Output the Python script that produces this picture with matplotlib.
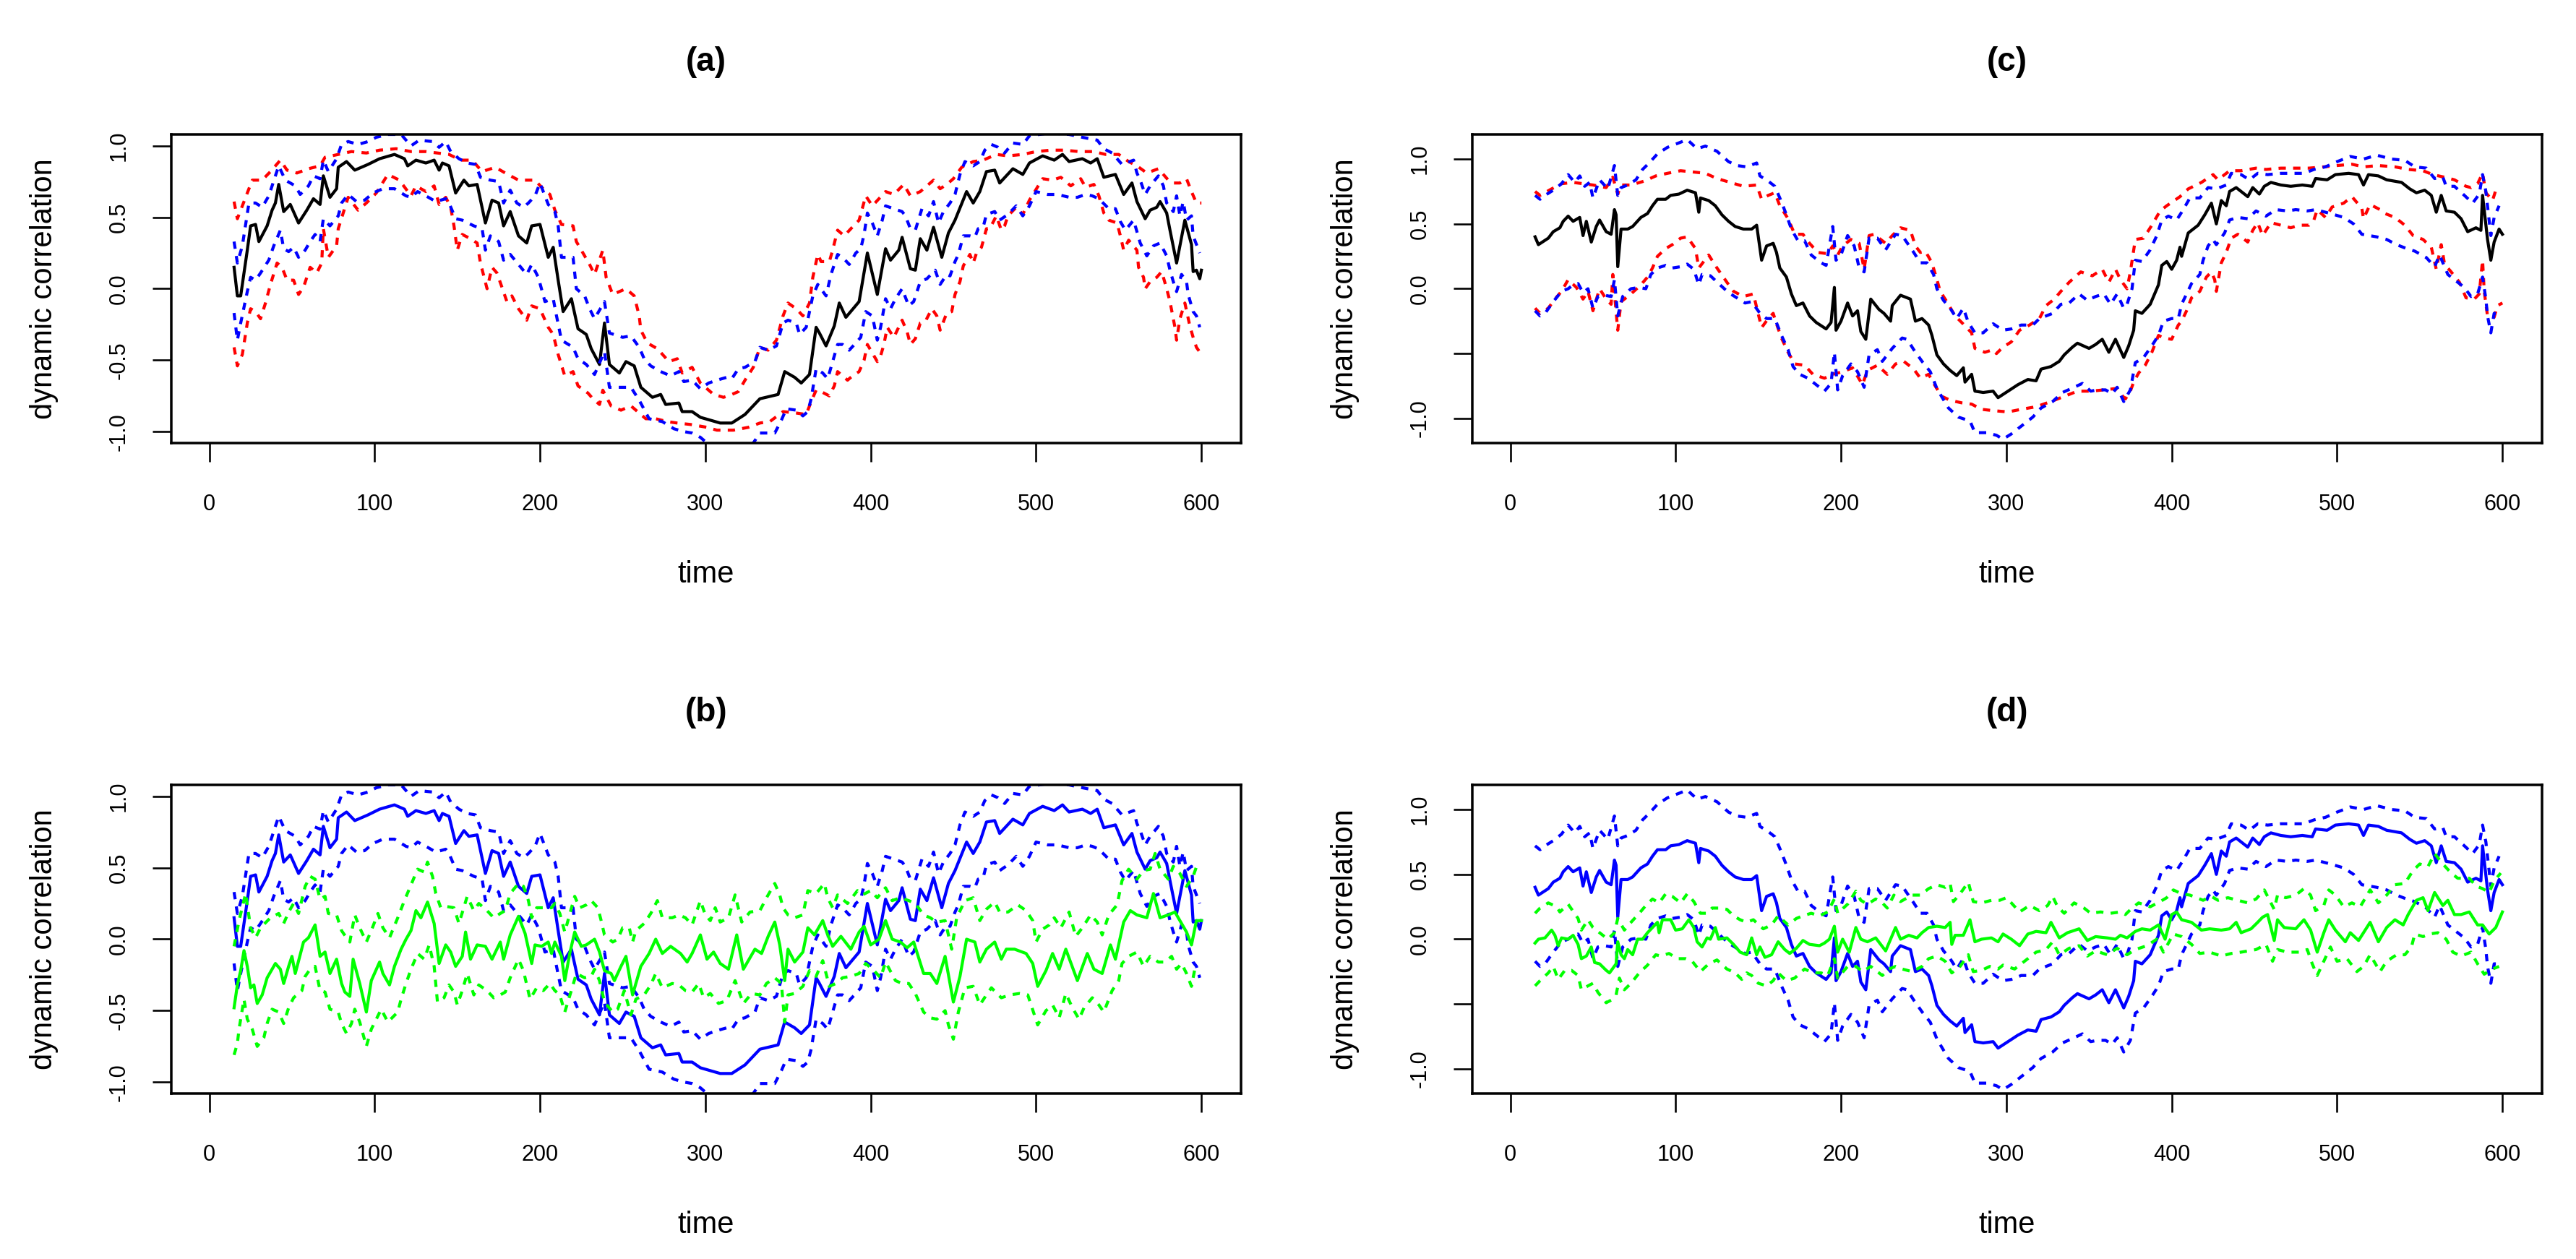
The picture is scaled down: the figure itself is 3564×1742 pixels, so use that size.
import matplotlib
matplotlib.use("Agg")
import matplotlib.pyplot as plt

plt.rcParams['font.family'] = ['Liberation Sans', 'DejaVu Sans']
plt.rcParams['axes.unicode_minus'] = False

# ---------------- data: (time, value) pairs ----------------
A_black = [(15,0.15),(17,-0.05),(19,-0.05),(23,0.27),(25,0.44),(28,0.45),(30,0.33),(35,0.44),(38,0.55),(40,0.60),(42,0.73),(45,0.54),(49,0.59),(54,0.46),(59,0.55),(63,0.63),(67,0.59),(69,0.79),(73,0.64),(77,0.70),(78,0.85),(83,0.89),(88,0.83),(96,0.87),(103,0.91),(112,0.94),(118,0.91),(120,0.86),(125,0.90),(131,0.88),(136,0.90),(139,0.83),(141,0.88),(145,0.86),(149,0.67),(154,0.76),(157,0.72),(162,0.73),(167,0.46),(171,0.62),(175,0.60),(178,0.44),(182,0.54),(187,0.37),(192,0.32),(195,0.44),(200,0.45),(205,0.22),(208,0.29),(211,0.06),(214,-0.16),(219,-0.07),(223,-0.28),(228,-0.32),(231,-0.42),(236,-0.53),(239,-0.24),(242,-0.53),(248,-0.59),(252,-0.51),(257,-0.54),(261,-0.69),(268,-0.76),(273,-0.74),(276,-0.81),(284,-0.80),(286,-0.86),(292,-0.86),(297,-0.90),(309,-0.94),(316,-0.94),(324,-0.88),(333,-0.77),(344,-0.74),(348,-0.58),(354,-0.62),(358,-0.66),(363,-0.60),(367,-0.27),(369,-0.31),(373,-0.40),(378,-0.26),(381,-0.10),(385,-0.20),(393,-0.09),(398,0.25),(404,-0.04),(409,0.28),(412,0.20),(417,0.27),(419,0.36),(424,0.14),(427,0.13),(430,0.35),(434,0.27),(438,0.43),(443,0.22),(447,0.39),(451,0.48),(458,0.68),(462,0.60),(466,0.68),(470,0.82),(475,0.83),(478,0.74),(486,0.84),(492,0.80),(496,0.88),(504,0.93),(511,0.90),(516,0.94),(520,0.89),(528,0.91),(533,0.88),(537,0.91),(541,0.78),(548,0.80),(553,0.66),(558,0.74),(561,0.61),(566,0.49),(569,0.55),(573,0.57),(575,0.61),(579,0.53),(581,0.41),(585,0.18),(590,0.48),(594,0.31),(595,0.12),(597,0.13),(599,0.07),(600,0.13)]

A_red_up = [(15,0.61),(17,0.49),(23,0.67),(26,0.76),(32,0.76),(37,0.82),(43,0.90),(47,0.83),(53,0.81),(60,0.84),(67,0.86),(70,0.92),(78,0.94),(86,0.96),(95,0.95),(103,0.97),(113,0.98),(122,0.96),(131,0.96),(138,0.95),(145,0.94),(152,0.90),(159,0.90),(165,0.82),(173,0.85),(179,0.81),(187,0.76),(197,0.76),(201,0.71),(206,0.66),(209,0.55),(213,0.45),(220,0.44),(222,0.33),(226,0.25),(230,0.17),(233,0.10),(238,0.27),(240,0.08),(244,-0.04),(252,0.00),(257,-0.05),(260,-0.19),(261,-0.29),(265,-0.38),(271,-0.42),(278,-0.51),(283,-0.49),(286,-0.59),(292,-0.55),(297,-0.66),(305,-0.74),(311,-0.76),(316,-0.74),(320,-0.72),(324,-0.64),(329,-0.55),(333,-0.41),(338,-0.43),(343,-0.36),(347,-0.19),(350,-0.10),(355,-0.14),(359,-0.19),(363,-0.10),(365,0.08),(368,0.24),(370,0.19),(375,0.19),(377,0.27),(380,0.41),(384,0.37),(388,0.42),(393,0.48),(397,0.65),(401,0.58),(409,0.68),(414,0.66),(420,0.73),(424,0.65),(430,0.68),(433,0.71),(438,0.76),(442,0.70),(446,0.73),(450,0.77),(455,0.85),(462,0.89),(468,0.90),(476,0.94),(483,0.93),(492,0.94),(500,0.96),(509,0.97),(517,0.97),(526,0.96),(535,0.96),(542,0.94),(550,0.94),(556,0.89),(561,0.86),(567,0.81),(574,0.84),(580,0.76),(583,0.74),(587,0.74),(591,0.77),(594,0.68),(597,0.60),(600,0.60)]

A_red_lo = [(15,-0.41),(17,-0.54),(20,-0.46),(23,-0.24),(25,-0.14),(28,-0.16),(31,-0.21),(34,-0.10),(37,0.03),(41,0.18),(44,0.15),(47,0.06),(51,0.06),(54,-0.04),(57,0.01),(61,0.15),(65,0.11),(68,0.18),(69,0.42),(72,0.22),(77,0.30),(78,0.42),(84,0.64),(90,0.55),(95,0.60),(101,0.67),(108,0.80),(115,0.76),(122,0.65),(125,0.72),(131,0.68),(136,0.72),(139,0.59),(143,0.64),(146,0.57),(148,0.44),(150,0.27),(153,0.38),(158,0.35),(162,0.32),(164,0.18),(168,0.00),(171,0.15),(174,0.11),(177,0.01),(180,-0.09),(183,-0.05),(187,-0.14),(192,-0.22),(195,-0.12),(200,-0.14),(205,-0.27),(208,-0.32),(211,-0.46),(215,-0.61),(220,-0.58),(223,-0.68),(229,-0.73),(232,-0.77),(236,-0.81),(238,-0.71),(243,-0.82),(249,-0.85),(255,-0.82),(264,-0.91),(270,-0.91),(277,-0.93),(283,-0.94),(291,-0.95),(301,-0.97),(307,-0.99),(317,-0.99),(326,-0.97),(333,-0.94),(339,-0.93),(347,-0.86),(355,-0.87),(361,-0.88),(364,-0.79),(367,-0.71),(370,-0.72),(375,-0.75),(378,-0.68),(380,-0.58),(386,-0.64),(389,-0.61),(393,-0.58),(396,-0.50),(398,-0.39),(404,-0.51),(406,-0.47),(408,-0.39),(410,-0.27),(414,-0.34),(419,-0.22),(422,-0.30),(424,-0.39),(427,-0.35),(430,-0.24),(433,-0.23),(437,-0.14),(440,-0.19),(442,-0.29),(446,-0.17),(449,-0.16),(451,-0.04),(454,0.05),(456,0.16),(460,0.24),(462,0.18),(464,0.25),(467,0.29),(470,0.42),(472,0.42),(476,0.51),(479,0.41),(481,0.44),(483,0.51),(488,0.57),(492,0.52),(496,0.62),(504,0.77),(510,0.76),(515,0.78),(521,0.72),(527,0.77),(530,0.71),(535,0.73),(538,0.65),(541,0.53),(544,0.48),(549,0.46),(551,0.37),(553,0.27),(556,0.34),(561,0.27),(562,0.15),(565,0.08),(566,0.00),(569,0.05),(573,0.08),(576,0.12),(579,0.00),(581,-0.09),(584,-0.27),(585,-0.36),(587,-0.21),(590,-0.10),(593,-0.26),(595,-0.34),(597,-0.41),(600,-0.46)]

A_blue_up = [(15,0.33),(17,0.18),(20,0.30),(24,0.60),(28,0.60),(32,0.57),(36,0.65),(42,0.86),(46,0.76),(52,0.72),(55,0.66),(60,0.72),(63,0.79),(67,0.77),(69,0.90),(72,0.82),(77,0.91),(80,1.01),(84,1.03),(90,1.01),(96,1.03),(101,1.06),(108,1.08),(116,1.08),(122,1.00),(127,1.04),(135,1.03),(139,0.99),(143,1.03),(146,0.96),(151,0.91),(156,0.88),(161,0.87),(164,0.78),(170,0.76),(175,0.75),(178,0.60),(182,0.69),(186,0.60),(190,0.57),(193,0.60),(197,0.65),(200,0.74),(203,0.65),(205,0.59),(209,0.54),(211,0.44),(213,0.22),(220,0.22),(222,0.00),(227,-0.05),(230,-0.14),(233,-0.21),(239,-0.09),(242,-0.31),(250,-0.34),(255,-0.33),(260,-0.41),(263,-0.49),(267,-0.54),(273,-0.58),(279,-0.61),(284,-0.58),(287,-0.65),(292,-0.64),(297,-0.70),(302,-0.66),(307,-0.64),(313,-0.62),(316,-0.63),(320,-0.56),(324,-0.55),(330,-0.51),(333,-0.41),(338,-0.43),(343,-0.40),(347,-0.24),(350,-0.22),(355,-0.24),(357,-0.32),(361,-0.27),(363,-0.16),(365,-0.05),(368,0.03),(373,-0.05),(376,0.10),(380,0.24),(383,0.22),(387,0.17),(391,0.25),(394,0.28),(396,0.38),(398,0.53),(401,0.46),(404,0.37),(407,0.48),(409,0.58),(414,0.56),(419,0.54),(421,0.51),(424,0.42),(427,0.41),(431,0.56),(435,0.51),(438,0.61),(441,0.46),(444,0.54),(448,0.60),(451,0.66),(454,0.80),(457,0.89),(462,0.86),(466,0.89),(469,0.97),(473,1.01),(477,0.99),(481,0.95),(486,1.02),(492,1.01),(496,1.07),(508,1.09),(520,1.08),(528,1.06),(537,1.04),(541,0.98),(546,0.95),(552,0.87),(559,0.90),(561,0.81),(563,0.76),(566,0.66),(569,0.72),(574,0.79),(577,0.72),(579,0.60),(583,0.54),(585,0.65),(587,0.51),(589,0.61),(591,0.48),(594,0.51),(595,0.37),(597,0.31),(599,0.25)]

A_blue_lo = [(15,-0.17),(17,-0.36),(19,-0.24),(23,-0.02),(25,0.08),(28,0.06),(31,0.11),(36,0.20),(39,0.30),(43,0.41),(45,0.28),(48,0.26),(51,0.29),(54,0.22),(58,0.27),(61,0.33),(64,0.38),(67,0.33),(69,0.49),(73,0.44),(78,0.51),(80,0.60),(84,0.66),(89,0.61),(94,0.62),(99,0.67),(105,0.70),(112,0.70),(119,0.65),(122,0.64),(126,0.68),(131,0.65),(137,0.61),(143,0.63),(145,0.60),(149,0.49),(153,0.48),(160,0.44),(165,0.42),(167,0.27),(170,0.37),(175,0.33),(178,0.20),(182,0.24),(187,0.17),(192,0.10),(195,0.17),(199,0.08),(203,-0.09),(208,-0.07),(210,-0.19),(213,-0.36),(220,-0.41),(223,-0.49),(228,-0.53),(233,-0.60),(239,-0.44),(242,-0.69),(248,-0.69),(255,-0.69),(260,-0.78),(266,-0.91),(274,-0.93),(281,-0.98),(287,-1.00),(292,-1.01),(297,-1.04),(302,-1.09),(309,-1.13),(316,-1.14),(324,-1.12),(329,-1.08),(333,-1.01),(337,-1.01),(342,-1.01),(346,-0.92),(349,-0.84),(355,-0.85),(359,-0.89),(362,-0.86),(364,-0.77),(367,-0.56),(371,-0.59),(374,-0.63),(377,-0.51),(380,-0.39),(383,-0.39),(387,-0.43),(391,-0.38),(394,-0.34),(397,-0.16),(401,-0.19),(404,-0.36),(406,-0.27),(409,-0.07),(412,-0.14),(415,-0.07),(419,0.00),(423,-0.12),(426,-0.09),(430,0.05),(434,0.07),(439,0.13),(442,0.03),(446,0.10),(448,0.09),(451,0.19),(453,0.24),(456,0.37),(460,0.37),(463,0.36),(465,0.42),(468,0.43),(470,0.52),(475,0.54),(478,0.48),(483,0.52),(488,0.58),(492,0.51),(496,0.58),(500,0.68),(507,0.66),(513,0.66),(520,0.64),(525,0.64),(530,0.66),(534,0.65),(538,0.63),(544,0.56),(548,0.56),(551,0.47),(554,0.41),(559,0.48),(563,0.32),(567,0.23),(571,0.30),(575,0.32),(579,0.23),(581,0.13),(583,0.05),(585,-0.02),(588,0.10),(591,0.05),(592,-0.04),(595,-0.16),(597,-0.19),(599,-0.27)]

A_green = [(15,-0.48),(17,-0.32),(19,-0.22),(21,-0.08),(23,-0.19),(25,-0.34),(27,-0.32),(29,-0.45),(32,-0.39),(35,-0.27),(40,-0.17),(43,-0.21),(45,-0.31),(48,-0.19),(50,-0.12),(52,-0.24),(57,-0.02),(60,0.01),(64,0.10),(67,-0.12),(70,-0.09),(73,-0.24),(77,-0.14),(80,-0.31),(82,-0.37),(85,-0.40),(87,-0.14),(91,-0.31),(95,-0.51),(98,-0.29),(103,-0.16),(105,-0.24),(109,-0.32),(112,-0.19),(116,-0.07),(119,0.00),(122,0.06),(125,0.20),(128,0.15),(132,0.26),(136,0.11),(139,-0.17),(143,-0.04),(146,-0.09),(149,-0.19),(153,-0.12),(155,0.05),(158,-0.14),(162,-0.04),(167,-0.05),(171,-0.14),(176,-0.02),(178,-0.14),(182,0.03),(187,0.16),(191,0.04),(195,-0.17),(197,-0.04),(201,-0.05),(205,-0.02),(207,-0.10),(209,-0.02),(213,-0.12),(215,-0.29),(218,-0.10),(221,0.05),(225,-0.05),(228,-0.04),(233,0.00),(236,-0.09),(239,-0.22),(243,-0.24),(245,-0.29),(249,-0.19),(252,-0.12),(256,-0.39),(261,-0.19),(266,-0.10),(270,0.00),(274,-0.10),(279,-0.05),(285,-0.10),(289,-0.16),(292,-0.10),(297,0.03),(301,-0.14),(305,-0.09),(309,-0.17),(314,-0.21),(319,0.03),(323,-0.21),(330,-0.07),(334,-0.10),(338,0.02),(342,0.12),(345,-0.04),(348,-0.29),(350,-0.07),(354,-0.16),(359,-0.09),(362,0.08),(366,0.03),(371,0.13),(374,0.03),(377,-0.05),(382,0.02),(388,-0.07),(393,0.05),(396,0.09),(400,-0.04),(405,0.00),(409,0.13),(413,0.00),(418,-0.02),(422,-0.06),(426,-0.02),(432,-0.24),(436,-0.24),(440,-0.31),(445,-0.12),(450,-0.44),(454,-0.26),(458,0.00),(463,-0.02),(466,-0.16),(470,-0.07),(475,-0.02),(479,-0.14),(482,-0.07),(487,-0.07),(494,-0.10),(498,-0.17),(501,-0.33),(506,-0.22),(510,-0.10),(514,-0.21),(518,-0.07),(525,-0.29),(531,-0.10),(535,-0.21),(540,-0.24),(545,-0.04),(548,-0.14),(553,0.12),(557,0.20),(561,0.17),(567,0.15),(571,0.32),(575,0.15),(580,0.17),(584,0.19),(587,0.13),(591,0.05),(594,-0.04),(597,0.13),(600,0.13)]

A_green_up = [(15,-0.05),(18,0.13),(22,0.32),(25,0.08),(28,0.01),(31,0.08),(37,0.15),(42,0.18),(45,0.11),(48,0.19),(51,0.25),(54,0.18),(58,0.37),(61,0.44),(64,0.42),(67,0.28),(70,0.30),(72,0.18),(77,0.17),(80,0.06),(83,0.01),(85,-0.02),(88,0.17),(91,0.08),(95,-0.02),(98,0.06),(102,0.18),(105,0.08),(109,0.01),(114,0.15),(118,0.27),(122,0.38),(126,0.49),(130,0.47),(132,0.54),(135,0.44),(137,0.32),(140,0.22),(143,0.23),(148,0.22),(151,0.11),(156,0.30),(160,0.20),(163,0.25),(168,0.20),(172,0.15),(176,0.18),(179,0.20),(182,0.32),(187,0.39),(190,0.37),(193,0.27),(195,0.15),(198,0.22),(202,0.22),(207,0.22),(209,0.25),(212,0.18),(215,0.05),(221,0.30),(224,0.22),(228,0.24),(231,0.27),(235,0.22),(237,0.13),(239,0.03),(244,-0.02),(247,0.00),(250,0.08),(254,0.08),(256,-0.02),(258,0.06),(263,0.11),(267,0.18),(271,0.27),(274,0.15),(280,0.15),(284,0.17),(288,0.15),(292,0.10),(297,0.27),(300,0.17),(303,0.13),(306,0.22),(309,0.12),(314,0.15),(318,0.31),(322,0.12),(327,0.19),(333,0.20),(337,0.29),(342,0.39),(345,0.31),(347,0.22),(350,0.17),(354,0.15),(359,0.17),(362,0.34),(367,0.32),(372,0.39),(374,0.29),(377,0.22),(380,0.31),(386,0.25),(392,0.34),(395,0.31),(400,0.34),(404,0.29),(409,0.36),(413,0.27),(418,0.29),(423,0.27),(427,0.25),(432,0.17),(436,0.15),(440,0.12),(445,0.13),(449,-0.07),(452,0.15),(457,0.27),(462,0.29),(466,0.13),(470,0.21),(475,0.26),(478,0.19),(483,0.19),(489,0.24),(494,0.20),(498,0.13),(500,-0.02),(504,0.07),(508,0.10),(511,0.15),(515,0.08),(520,0.19),(524,0.02),(528,0.08),(533,0.17),(537,0.12),(540,0.03),(544,0.17),(549,0.24),(552,0.41),(556,0.49),(561,0.42),(565,0.48),(569,0.49),(572,0.60),(575,0.49),(580,0.42),(583,0.51),(587,0.46),(591,0.37),(595,0.44),(598,0.54)]

A_green_lo = [(15,-0.81),(17,-0.73),(18,-0.63),(21,-0.42),(23,-0.56),(26,-0.63),(29,-0.75),(33,-0.69),(35,-0.59),(38,-0.49),(42,-0.51),(45,-0.59),(48,-0.48),(51,-0.41),(56,-0.36),(58,-0.26),(61,-0.21),(64,-0.19),(67,-0.36),(70,-0.37),(73,-0.49),(78,-0.51),(80,-0.59),(83,-0.66),(86,-0.59),(88,-0.49),(91,-0.58),(95,-0.75),(98,-0.63),(101,-0.56),(104,-0.49),(108,-0.58),(114,-0.51),(116,-0.42),(119,-0.31),(122,-0.21),(126,-0.10),(130,-0.14),(133,-0.04),(136,-0.19),(138,-0.44),(142,-0.41),(145,-0.32),(148,-0.37),(150,-0.46),(153,-0.36),(156,-0.24),(160,-0.39),(163,-0.32),(168,-0.36),(172,-0.41),(176,-0.39),(179,-0.37),(182,-0.27),(187,-0.14),(190,-0.22),(194,-0.42),(198,-0.34),(202,-0.36),(206,-0.31),(209,-0.36),(212,-0.39),(215,-0.51),(220,-0.32),(222,-0.24),(227,-0.27),(231,-0.26),(233,-0.21),(236,-0.29),(239,-0.44),(244,-0.51),(247,-0.49),(251,-0.36),(255,-0.53),(258,-0.42),(263,-0.39),(267,-0.32),(270,-0.24),(274,-0.34),(280,-0.31),(284,-0.32),(288,-0.36),(292,-0.37),(296,-0.31),(299,-0.41),(303,-0.38),(308,-0.45),(313,-0.43),(318,-0.29),(323,-0.45),(328,-0.38),(333,-0.39),(337,-0.31),(342,-0.27),(346,-0.31),(348,-0.58),(350,-0.39),(354,-0.38),(359,-0.33),(363,-0.22),(367,-0.26),(371,-0.15),(375,-0.33),(379,-0.31),(383,-0.27),(388,-0.26),(393,-0.24),(397,-0.17),(402,-0.22),(406,-0.27),(409,-0.16),(415,-0.29),(419,-0.31),(423,-0.31),(427,-0.38),(432,-0.51),(436,-0.55),(440,-0.56),(445,-0.50),(447,-0.60),(450,-0.70),(453,-0.51),(457,-0.34),(462,-0.33),(466,-0.46),(470,-0.39),(473,-0.34),(479,-0.41),(484,-0.39),(490,-0.38),(495,-0.39),(499,-0.53),(501,-0.60),(506,-0.50),(510,-0.46),(514,-0.55),(518,-0.38),(522,-0.48),(526,-0.56),(529,-0.48),(534,-0.41),(538,-0.46),(541,-0.51),(546,-0.36),(550,-0.29),(552,-0.17),(556,-0.12),(561,-0.09),(565,-0.19),(569,-0.12),(574,-0.16),(578,-0.16),(582,-0.12),(585,-0.21),(588,-0.17),(591,-0.24),(594,-0.33),(596,-0.21),(599,-0.22)]

C_black = [(15,0.40),(17,0.34),(23,0.39),(26,0.44),(30,0.47),(32,0.52),(35,0.56),(38,0.52),(42,0.55),(44,0.41),(46,0.52),(49,0.36),(52,0.48),(54,0.53),(58,0.44),(61,0.42),(63,0.61),(64,0.57),(65,0.17),(67,0.46),(71,0.46),(74,0.48),(79,0.55),(83,0.58),(86,0.64),(89,0.69),(94,0.69),(97,0.72),(102,0.73),(107,0.76),(112,0.74),(114,0.59),(115,0.70),(120,0.68),(124,0.64),(128,0.57),(132,0.52),(136,0.48),(141,0.46),(146,0.46),(149,0.49),(152,0.22),(155,0.33),(159,0.35),(161,0.28),(163,0.16),(167,0.09),(170,-0.04),(173,-0.13),(177,-0.11),(181,-0.21),(185,-0.26),(191,-0.31),(194,-0.26),(196,0.01),(197,-0.32),(200,-0.25),(204,-0.11),(207,-0.21),(210,-0.17),(212,-0.33),(215,-0.39),(218,-0.08),(223,-0.16),(226,-0.19),(230,-0.25),(231,-0.13),(236,-0.05),(242,-0.08),(245,-0.25),(249,-0.23),(253,-0.28),(255,-0.36),(258,-0.51),(262,-0.58),(266,-0.63),(270,-0.67),(274,-0.61),(275,-0.72),(279,-0.66),(281,-0.79),(286,-0.80),(292,-0.79),(295,-0.84),(301,-0.79),(307,-0.74),(313,-0.70),(318,-0.71),(321,-0.62),(327,-0.60),(332,-0.56),(335,-0.51),(340,-0.45),(343,-0.42),(350,-0.46),(354,-0.43),(358,-0.39),(362,-0.49),(366,-0.39),(371,-0.53),(374,-0.44),(377,-0.32),(378,-0.17),(382,-0.19),(387,-0.12),(392,0.03),(394,0.18),(397,0.21),(400,0.15),(403,0.22),(405,0.32),(406,0.25),(410,0.43),(416,0.49),(420,0.57),(424,0.66),(427,0.50),(430,0.68),(433,0.64),(435,0.75),(439,0.78),(446,0.71),(449,0.78),(453,0.73),(456,0.79),(460,0.82),(466,0.80),(472,0.79),(479,0.80),(485,0.79),(487,0.85),(494,0.84),(499,0.88),(507,0.89),(513,0.88),(516,0.80),(519,0.88),(525,0.87),(530,0.84),(539,0.82),(544,0.77),(548,0.74),(553,0.76),(557,0.72),(560,0.59),(563,0.72),(566,0.60),(571,0.59),(575,0.54),(579,0.44),(584,0.47),(587,0.45),(588,0.72),(591,0.38),(593,0.22),(595,0.36),(598,0.46),(600,0.42)]

C_red_up = [(15,0.75),(18,0.72),(25,0.77),(31,0.81),(38,0.82),(44,0.81),(50,0.80),(58,0.78),(62,0.86),(65,0.73),(67,0.80),(73,0.80),(81,0.83),(88,0.87),(95,0.89),(103,0.91),(111,0.90),(118,0.89),(125,0.85),(133,0.82),(141,0.79),(149,0.80),(152,0.69),(156,0.72),(160,0.74),(163,0.64),(168,0.54),(172,0.42),(177,0.42),(181,0.35),(186,0.28),(192,0.27),(195,0.33),(198,0.26),(201,0.33),(206,0.38),(211,0.35),(214,0.15),(217,0.41),(220,0.42),(227,0.35),(231,0.41),(236,0.47),(242,0.45),(245,0.33),(248,0.28),(251,0.29),(255,0.20),(258,0.07),(260,-0.02),(264,-0.10),(269,-0.21),(273,-0.26),(279,-0.34),(281,-0.46),(287,-0.49),(292,-0.47),(294,-0.50),(298,-0.45),(303,-0.41),(308,-0.32),(314,-0.28),(320,-0.23),(324,-0.13),(329,-0.08),(333,-0.02),(338,0.05),(345,0.13),(352,0.10),(358,0.15),(362,0.05),(366,0.15),(369,0.07),(373,0.00),(375,0.13),(378,0.38),(383,0.39),(388,0.49),(393,0.60),(397,0.64),(405,0.71),(410,0.77),(418,0.82),(425,0.88),(428,0.84),(435,0.91),(442,0.91),(451,0.93),(457,0.92),(466,0.93),(475,0.93),(483,0.93),(492,0.94),(500,0.95),(509,0.96),(516,0.94),(525,0.95),(535,0.94),(543,0.92),(552,0.91),(558,0.88),(565,0.86),(571,0.84),(578,0.79),(581,0.78),(585,0.81),(588,0.89),(590,0.74),(594,0.68),(596,0.76),(598,0.78)]

C_red_lo = [(15,-0.15),(18,-0.19),(23,-0.15),(27,-0.08),(31,-0.02),(35,0.07),(40,0.01),(44,-0.08),(47,-0.02),(50,-0.17),(54,0.00),(58,-0.08),(61,-0.12),(62,0.11),(65,-0.32),(67,-0.10),(73,-0.04),(79,0.03),(83,0.09),(86,0.16),(89,0.25),(94,0.31),(98,0.34),(103,0.39),(107,0.40),(112,0.31),(114,0.16),(120,0.26),(125,0.16),(131,0.05),(135,-0.02),(141,-0.06),(147,-0.04),(152,-0.30),(156,-0.23),(159,-0.19),(161,-0.27),(164,-0.38),(168,-0.49),(172,-0.58),(178,-0.59),(183,-0.66),(190,-0.69),(195,-0.66),(201,-0.64),(207,-0.61),(213,-0.74),(216,-0.63),(222,-0.59),(228,-0.66),(233,-0.58),(238,-0.56),(244,-0.62),(248,-0.69),(253,-0.66),(257,-0.75),(261,-0.83),(266,-0.86),(273,-0.88),(279,-0.89),(285,-0.93),(292,-0.94),(301,-0.95),(309,-0.93),(318,-0.91),(327,-0.87),(335,-0.83),(343,-0.79),(351,-0.79),(359,-0.78),(366,-0.77),(372,-0.85),(375,-0.79),(377,-0.72),(380,-0.65),(384,-0.59),(388,-0.49),(392,-0.36),(395,-0.38),(400,-0.39),(404,-0.28),(406,-0.25),(409,-0.17),(412,-0.07),(417,-0.02),(421,0.09),(424,0.13),(426,0.07),(427,-0.02),(430,0.20),(433,0.28),(436,0.39),(440,0.42),(446,0.36),(449,0.45),(452,0.51),(455,0.41),(460,0.51),(466,0.49),(472,0.47),(477,0.49),(483,0.49),(486,0.53),(488,0.61),(493,0.55),(497,0.63),(504,0.66),(509,0.71),(515,0.62),(516,0.54),(520,0.65),(526,0.61),(529,0.58),(535,0.55),(541,0.49),(546,0.41),(552,0.38),(557,0.32),(560,0.15),(563,0.34),(565,0.19),(569,0.13),(574,0.05),(578,-0.07),(583,-0.08),(586,-0.04),(588,0.22),(589,-0.02),(591,-0.21),(595,-0.22),(597,-0.13),(600,-0.11)]

C_blue_up = [(15,0.72),(18,0.69),(21,0.72),(26,0.76),(31,0.81),(35,0.88),(39,0.82),(42,0.87),(45,0.79),(48,0.82),(50,0.70),(54,0.84),(59,0.77),(63,0.95),(65,0.72),(67,0.78),(71,0.80),(76,0.84),(80,0.92),(84,0.97),(89,1.04),(95,1.09),(101,1.12),(107,1.15),(113,1.08),(118,1.10),(125,1.06),(132,0.98),(137,0.95),(143,0.94),(149,0.97),(151,0.87),(156,0.83),(160,0.79),(164,0.67),(167,0.57),(170,0.46),(174,0.37),(178,0.37),(182,0.26),(188,0.20),(191,0.18),(195,0.48),(197,0.22),(200,0.26),(204,0.41),(208,0.33),(211,0.16),(214,0.13),(217,0.39),(222,0.39),(227,0.30),(233,0.42),(237,0.41),(244,0.28),(248,0.20),(252,0.20),(256,0.11),(258,0.00),(262,-0.09),(266,-0.15),(270,-0.23),(274,-0.15),(277,-0.26),(281,-0.34),(286,-0.34),(292,-0.27),(298,-0.32),(303,-0.31),(309,-0.28),(316,-0.28),(320,-0.23),(328,-0.19),(333,-0.12),(338,-0.11),(344,-0.04),(349,-0.09),(354,-0.06),(359,-0.04),(363,-0.12),(367,-0.04),(371,-0.15),(373,-0.12),(376,0.00),(378,0.22),(382,0.21),(387,0.30),(391,0.41),(394,0.53),(398,0.56),(403,0.53),(407,0.61),(411,0.70),(417,0.70),(422,0.78),(427,0.77),(433,0.80),(436,0.89),(442,0.88),(447,0.84),(452,0.89),(458,0.88),(466,0.89),(473,0.89),(480,0.89),(486,0.92),(493,0.94),(500,0.98),(508,1.02),(516,1.00),(524,1.03),(533,1.00),(541,0.99),(547,0.94),(554,0.93),(559,0.85),(564,0.86),(566,0.79),(571,0.79),(577,0.72),(582,0.66),(586,0.73),(588,0.88),(590,0.75),(593,0.41),(595,0.55),(598,0.64)]

C_blue_lo = [(15,-0.17),(18,-0.21),(21,-0.19),(26,-0.10),(31,-0.02),(35,0.00),(38,0.03),(41,0.04),(44,-0.03),(47,0.00),(50,-0.15),(53,-0.06),(57,-0.05),(61,-0.06),(63,0.07),(65,-0.21),(68,-0.06),(73,0.00),(78,0.01),(82,0.00),(85,0.11),(89,0.16),(94,0.18),(98,0.16),(103,0.17),(107,0.19),(111,0.15),(114,0.03),(116,0.11),(121,0.10),(126,0.04),(132,-0.03),(137,-0.07),(142,-0.11),(146,-0.10),(151,-0.19),(155,-0.23),(160,-0.23),(164,-0.36),(168,-0.47),(171,-0.60),(175,-0.66),(180,-0.69),(186,-0.75),(190,-0.79),(194,-0.73),(196,-0.49),(198,-0.78),(201,-0.67),(206,-0.58),(210,-0.64),(214,-0.76),(217,-0.51),(222,-0.47),(225,-0.56),(231,-0.46),(237,-0.38),(240,-0.39),(244,-0.47),(249,-0.56),(254,-0.64),(258,-0.77),(265,-0.92),(271,-0.99),(278,-1.02),(281,-1.11),(288,-1.11),(294,-1.13),(298,-1.16),(303,-1.12),(309,-1.06),(316,-0.99),(321,-0.92),(328,-0.87),(334,-0.80),(341,-0.76),(346,-0.73),(351,-0.79),(355,-0.78),(360,-0.78),(364,-0.81),(367,-0.76),(371,-0.87),(375,-0.78),(378,-0.57),(383,-0.53),(388,-0.44),(392,-0.36),(395,-0.25),(400,-0.23),(404,-0.23),(406,-0.12),(409,-0.04),(412,0.04),(417,0.11),(419,0.22),(422,0.33),(425,0.38),(427,0.34),(432,0.43),(435,0.53),(440,0.55),(446,0.54),(451,0.60),(457,0.56),(463,0.61),(470,0.60),(475,0.61),(482,0.60),(487,0.61),(496,0.58),(504,0.55),(510,0.50),(515,0.42),(524,0.40),(530,0.38),(536,0.34),(542,0.31),(547,0.29),(554,0.24),(559,0.17),(562,0.26),(567,0.11),(571,0.07),(577,0.01),(581,-0.06),(585,-0.04),(588,0.09),(590,-0.08),(591,-0.21),(593,-0.34),(595,-0.19),(600,-0.19)]

C_green = [(15,-0.03),(17,0.00),(21,0.01),(25,0.07),(27,0.03),(29,-0.05),(31,0.01),(35,0.00),(38,0.03),(41,-0.04),(43,-0.15),(46,-0.13),(49,-0.06),(51,-0.18),(54,-0.19),(58,-0.24),(60,-0.26),(64,-0.19),(65,-0.02),(67,-0.12),(69,-0.15),(71,-0.08),(74,-0.12),(77,0.00),(80,0.00),(83,0.05),(86,0.09),(89,0.13),(90,0.05),(92,0.15),(97,0.15),(100,0.07),(104,0.08),(108,0.15),(111,0.09),(113,-0.02),(116,-0.06),(119,0.01),(121,0.00),(124,0.09),(126,0.00),(131,0.01),(135,-0.04),(139,-0.10),(143,-0.12),(146,0.01),(149,-0.12),(151,-0.06),(154,-0.14),(158,-0.12),(162,-0.02),(166,-0.08),(169,-0.11),(173,-0.07),(177,-0.01),(181,-0.04),(187,-0.05),(190,-0.03),(193,0.00),(196,0.10),(198,-0.10),(201,0.00),(205,-0.10),(209,0.09),(212,0.00),(216,-0.02),(221,0.01),(224,-0.04),(227,-0.09),(230,0.00),(233,0.09),(236,0.00),(241,0.03),(246,0.01),(249,0.05),(253,0.09),(258,0.10),(263,0.09),(266,0.13),(267,-0.04),(269,0.03),(274,0.03),(278,0.15),(281,-0.02),(285,0.00),(291,0.01),(295,-0.02),(298,0.04),(303,0.00),(308,-0.05),(313,0.04),(318,0.06),(324,0.05),(327,0.13),(332,0.01),(337,0.05),(344,0.08),(349,-0.01),(354,0.02),(361,0.01),(366,0.00),(369,0.03),(373,0.01),(378,0.06),(382,0.08),(387,0.07),(392,0.11),(396,0.00),(400,0.19),(403,0.21),(406,0.15),(412,0.13),(418,0.07),(423,0.08),(430,0.07),(435,0.08),(439,0.13),(442,0.05),(448,0.08),(452,0.13),(455,0.17),(458,0.19),(462,-0.01),(464,0.15),(468,0.09),(475,0.08),(480,0.15),(484,0.07),(488,-0.10),(492,0.05),(495,0.15),(499,0.07),(505,-0.02),(508,0.05),(513,-0.01),(520,0.13),(525,-0.02),(530,0.09),(535,0.15),(540,0.11),(543,0.19),(548,0.30),(552,0.32),(555,0.22),(559,0.36),(564,0.26),(567,0.30),(571,0.19),(575,0.19),(580,0.21),(585,0.11),(588,0.11),(592,0.04),(596,0.09),(600,0.21)]

C_green_up = [(15,0.20),(18,0.24),(23,0.28),(28,0.25),(30,0.21),(35,0.27),(41,0.16),(43,0.07),(47,0.15),(50,0.09),(54,0.05),(59,0.00),(63,0.05),(65,0.16),(69,0.07),(73,0.13),(78,0.20),(82,0.26),(86,0.31),(90,0.28),(94,0.35),(98,0.33),(103,0.28),(107,0.35),(111,0.29),(115,0.20),(119,0.20),(122,0.24),(126,0.24),(131,0.23),(135,0.18),(139,0.15),(143,0.13),(147,0.15),(153,0.08),(158,0.11),(162,0.18),(168,0.11),(173,0.16),(177,0.18),(182,0.20),(187,0.18),(192,0.21),(196,0.31),(198,0.20),(204,0.27),(209,0.37),(212,0.30),(216,0.27),(221,0.31),(225,0.28),(228,0.24),(232,0.34),(236,0.29),(243,0.34),(248,0.34),(253,0.39),(258,0.42),(263,0.40),(266,0.43),(268,0.29),(272,0.35),(277,0.44),(280,0.29),(285,0.28),(291,0.30),(296,0.30),(300,0.32),(303,0.28),(308,0.21),(314,0.26),(320,0.22),(325,0.26),(328,0.33),(331,0.25),(335,0.20),(341,0.28),(347,0.24),(351,0.20),(357,0.21),(363,0.20),(369,0.21),(372,0.19),(376,0.24),(380,0.28),(387,0.25),(393,0.29),(397,0.32),(401,0.38),(406,0.35),(411,0.34),(419,0.30),(424,0.33),(428,0.30),(434,0.32),(440,0.30),(446,0.28),(451,0.31),(456,0.38),(462,0.23),(464,0.34),(469,0.32),(475,0.34),(480,0.39),(484,0.34),(487,0.22),(492,0.26),(495,0.38),(499,0.34),(504,0.25),(509,0.28),(514,0.25),(520,0.38),(525,0.28),(530,0.34),(535,0.42),(541,0.43),(546,0.53),(550,0.58),(555,0.56),(559,0.66),(564,0.58),(569,0.51),(573,0.47),(580,0.47),(584,0.41),(588,0.39),(592,0.36),(595,0.45),(599,0.51)]

C_green_lo = [(15,-0.36),(18,-0.32),(23,-0.26),(26,-0.21),(29,-0.31),(33,-0.24),(37,-0.24),(41,-0.28),(43,-0.39),(47,-0.36),(50,-0.34),(53,-0.41),(58,-0.49),(61,-0.47),(64,-0.43),(66,-0.30),(69,-0.39),(73,-0.34),(78,-0.26),(83,-0.20),(88,-0.12),(91,-0.13),(96,-0.11),(101,-0.15),(106,-0.15),(110,-0.17),(115,-0.25),(120,-0.19),(125,-0.16),(131,-0.23),(136,-0.26),(140,-0.31),(143,-0.26),(146,-0.28),(150,-0.34),(155,-0.36),(159,-0.32),(162,-0.26),(167,-0.32),(172,-0.30),(178,-0.23),(183,-0.26),(188,-0.26),(192,-0.28),(196,-0.15),(198,-0.30),(204,-0.21),(209,-0.21),(213,-0.25),(218,-0.21),(222,-0.25),(225,-0.28),(229,-0.23),(233,-0.21),(237,-0.23),(243,-0.25),(249,-0.21),(253,-0.15),(258,-0.13),(263,-0.17),(267,-0.26),(272,-0.21),(277,-0.12),(280,-0.25),(285,-0.24),(290,-0.21),(295,-0.23),(298,-0.20),(305,-0.23),(313,-0.15),(318,-0.10),(324,-0.08),(328,-0.02),(332,-0.12),(338,-0.07),(344,-0.05),(349,-0.13),(354,-0.09),(361,-0.12),(367,-0.07),(373,-0.12),(378,-0.08),(385,-0.05),(391,0.00),(395,-0.10),(401,0.04),(406,0.02),(412,-0.04),(417,-0.11),(423,-0.10),(430,-0.13),(436,-0.11),(442,-0.10),(451,-0.08),(457,-0.04),(461,-0.17),(464,-0.08),(470,-0.10),(477,-0.10),(482,-0.08),(485,-0.19),(488,-0.28),(492,-0.17),(496,-0.06),(500,-0.17),(506,-0.15),(512,-0.25),(516,-0.21),(520,-0.12),(526,-0.25),(530,-0.17),(536,-0.12),(541,-0.12),(545,-0.06),(547,0.04),(552,0.02),(556,0.04),(561,0.05),(566,0.00),(570,-0.10),(575,-0.13),(581,-0.10),(585,-0.19),(589,-0.27),(594,-0.23),(598,-0.21)]

x_ticks = [0, 100, 200, 300, 400, 500, 600]
x_tick_labels = ['0', '100', '200', '300', '400', '500', '600']
y_ticks = [-1.0, -0.5, 0.0, 0.5, 1.0]
y_labels_ab = ['-1.0', '-0.5', '0.0', '0.5', '1.0']
y_labels_cd = ['-1.0', '', '0.0', '0.5', '1.0']

# ---------------- layout ----------------
W, H = 3564, 1742
DPI = 100
fig = plt.figure(figsize=(W / DPI, H / DPI), dpi=DPI)
fig.patch.set_facecolor('white')

def px2pt(p):
    return p * 72.0 / DPI

LW = px2pt(4.2)
DASH = (0, (2.4, 2.4))

def frac_box(left, top, right, bottom):
    return [left / W, 1 - bottom / H, (right - left) / W, (bottom - top) / H]

boxes = {
    '(a)': frac_box(237, 186, 1717, 613),
    '(b)': frac_box(237, 1086, 1717, 1513),
    '(c)': frac_box(2037, 186, 3517, 613),
    '(d)': frac_box(2037, 1086, 3517, 1513),
}

def unzip(pairs):
    return [p[0] for p in pairs], [p[1] for p in pairs]

def line(ax, pairs, color, dashed=False):
    t, v = unzip(pairs)
    ax.plot(t, v, color=color, lw=LW, linestyle=DASH if dashed else '-',
            solid_joinstyle='round', dash_capstyle='butt')

def setup(ax, name, ylim, ylabels):
    ax.set_xlim(-22.96, 623.96)
    ax.set_ylim(-ylim, ylim)
    ax.set_xticks(x_ticks)
    ax.set_xticklabels(x_tick_labels)
    ax.set_yticks(y_ticks)
    ax.set_yticklabels(ylabels, rotation=90, va='center')
    for s in ax.spines.values():
        s.set_linewidth(px2pt(3.5))
        s.set_color('black')
    ax.tick_params(axis='both', direction='out', length=px2pt(26), width=px2pt(2.6),
                   labelsize=22, colors='black')
    ax.tick_params(axis='x', pad=px2pt(44))
    ax.tick_params(axis='y', pad=px2pt(31))
    l, b, w, h = ax.get_position().bounds
    top_px = (1 - (b + h)) * H
    bot_px = (1 - b) * H
    left_px = l * W
    cx = l + w / 2
    fig.text(cx, 1 - (top_px - 100) / H, name, ha='center', va='center',
             fontsize=33, fontweight='bold')
    fig.text(cx, 1 - (bot_px + 182) / H, 'time', ha='center', va='center', fontsize=30)
    fig.text((left_px - 176) / W, b + h / 2, 'dynamic correlation', ha='center',
             va='center', rotation=90, fontsize=30)

# (a)
ax = fig.add_axes(boxes['(a)'])
line(ax, A_black, 'black')
line(ax, A_red_up, '#FF0000', True)
line(ax, A_red_lo, '#FF0000', True)
line(ax, A_blue_up, '#0000FF', True)
line(ax, A_blue_lo, '#0000FF', True)
setup(ax, '(a)', 1.08, y_labels_ab)

# (b)
ax = fig.add_axes(boxes['(b)'])
line(ax, A_black, '#0000FF')
line(ax, A_blue_up, '#0000FF', True)
line(ax, A_blue_lo, '#0000FF', True)
line(ax, A_green, '#00FF00')
line(ax, A_green_up, '#00FF00', True)
line(ax, A_green_lo, '#00FF00', True)
setup(ax, '(b)', 1.08, y_labels_ab)

# (c)
ax = fig.add_axes(boxes['(c)'])
line(ax, C_black, 'black')
line(ax, C_red_up, '#FF0000', True)
line(ax, C_red_lo, '#FF0000', True)
line(ax, C_blue_up, '#0000FF', True)
line(ax, C_blue_lo, '#0000FF', True)
setup(ax, '(c)', 1.19, y_labels_cd)

# (d)
ax = fig.add_axes(boxes['(d)'])
line(ax, C_black, '#0000FF')
line(ax, C_blue_up, '#0000FF', True)
line(ax, C_blue_lo, '#0000FF', True)
line(ax, C_green, '#00FF00')
line(ax, C_green_up, '#00FF00', True)
line(ax, C_green_lo, '#00FF00', True)
setup(ax, '(d)', 1.19, y_labels_cd)

fig.savefig('out.png', dpi=DPI, facecolor='white')
